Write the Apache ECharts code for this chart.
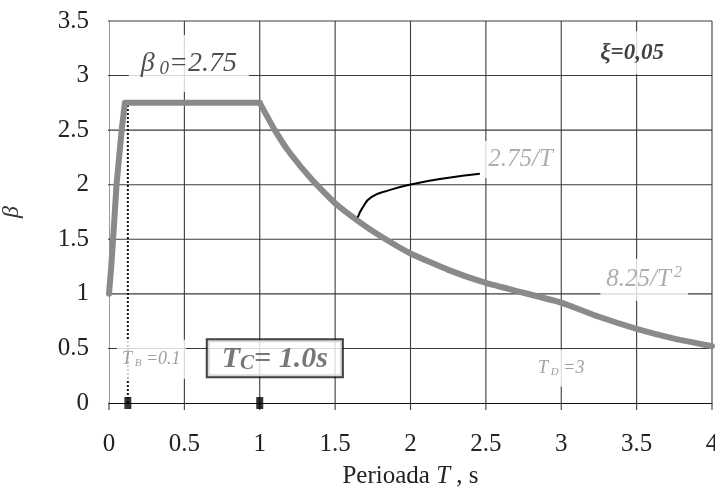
<!DOCTYPE html>
<html><head><meta charset="utf-8">
<script src="https://cdn.jsdelivr.net/npm/echarts@6/dist/echarts.min.js"></script>
<style>html,body{margin:0;padding:0;background:#fff}#c{width:715px;height:490px}</style>
</head><body><div id="c"></div>
<script>
// Spectrum curve: rising branch + plateau
const riseT = [0, 0.015, 0.027, 0.05, 0.084, 0.105, 1.0];
const riseB = [1.0, 1.25, 1.5, 2.0, 2.5, 2.75, 2.75];
// Descending branch
const fallT = [1.0, 1.1, 1.2, 1.35, 1.5, 1.66, 1.8, 2.0, 2.25, 2.5, 2.75, 3.0, 3.25, 3.5, 3.75, 4.0];
const fallB = [2.75, 2.5, 2.29, 2.04, 1.83, 1.66, 1.53, 1.37, 1.22, 1.1, 1.01, 0.92, 0.79, 0.68, 0.59, 0.52];
// T_B dotted marker line
const tbLineT = [0.125, 0.125];
const tbLineB = [0, 2.75];
// Marker squares on the T axis
const markerT = [0.125, 1.0];
// Leader line to the "2.75/T" label
const leaderT = [2.46, 2.23, 2.01, 1.86, 1.74, 1.68, 1.65];
const leaderB = [2.10, 2.06, 2.005, 1.95, 1.886, 1.786, 1.70];
// Tick values and labels
const xTickVals = [0, 0.5, 1, 1.5, 2, 2.5, 3, 3.5, 4];
const yTickVals = [0, 0.5, 1, 1.5, 2, 2.5, 3, 3.5];
const xTicks = ['0','0.5','1','1.5','2','2.5','3','3.5','4'];
const yTicks = ['0','0.5','1','1.5','2','2.5','3','3.5'];

const serif = 'Liberation Serif';
const pair = (a, b) => a.map((v, i) => [v, b[i]]);
const X_MIN = 0, X_MAX = 4, Y_MIN = 0, Y_MAX = 3.5;
const xTickOut = 0.065, yTickOut = 0.06; // tick stubs outside the plot, in axis units

// Grid lines as one broken line series built from the tick values
const gridSegs = [];
xTickVals.forEach(v => {
  gridSegs.push([v, Y_MIN - xTickOut], [v, v === X_MIN ? Y_MIN : Y_MAX], ['-', '-']);
});
yTickVals.forEach(v => {
  gridSegs.push([X_MIN - yTickOut, v], [v === Y_MIN ? X_MIN : X_MAX, v], ['-', '-']);
});

function note(x, y, formatter, rich, extra) {
  return {
    value: [x, y],
    label: Object.assign({
      show: true, position: 'inside', formatter: formatter, rich: rich,
      backgroundColor: '#fff', padding: [8, 8]
    }, extra || {})
  };
}

const chart = echarts.init(document.getElementById('c'));
chart.setOption({
  animation: false,
  backgroundColor: '#fff',
  grid: {left: 109, right: 3, top: 21, bottom: 87, containLabel: false, outerBoundsMode: 'none'},
  xAxis: {
    type: 'value', min: X_MIN, max: X_MAX, interval: 0.5,
    name: '{a|Perioada }{b|T}{a| , s}', nameLocation: 'middle', nameGap: 61,
    nameTextStyle: {rich: {a: {fontFamily: serif, fontSize: 25, color: '#222'}, b: {fontFamily: serif, fontSize: 25, fontStyle: 'italic', color: '#222'}}},
    axisLine: {show: true, lineStyle: {color: '#111', width: 1.2}},
    axisTick: {show: false},
    axisLabel: {fontFamily: serif, fontSize: 25, color: '#222', margin: 29,
      formatter: v => xTicks[Math.round(v / 0.5)]},
    splitLine: {show: false}
  },
  yAxis: {
    type: 'value', min: Y_MIN, max: Y_MAX, interval: 0.5,
    name: 'β', nameLocation: 'middle', nameGap: 85, nameRotate: 90,
    nameTextStyle: {fontFamily: serif, fontSize: 24, fontStyle: 'italic', color: '#333'},
    axisLine: {show: true, lineStyle: {color: '#999', width: 1}},
    axisTick: {show: false},
    axisLabel: {fontFamily: serif, fontSize: 25, color: '#222', margin: 20,
      formatter: v => yTicks[Math.round(v / 0.5)]},
    splitLine: {show: false}
  },
  series: [
    {type: 'line', data: gridSegs, symbol: 'none', z: 1, silent: true, clip: false,
     connectNulls: false, lineStyle: {color: '#3c3c3c', width: 1.1}},
    {type: 'line', data: pair(tbLineT, tbLineB), symbol: 'none', z: 2,
     lineStyle: {color: '#111', width: 2, type: [2, 2]}},
    {type: 'line', data: pair(riseT, riseB), symbol: 'none', z: 3,
     lineStyle: {color: '#8a8a8a', width: 6, join: 'round', cap: 'round'}},
    {type: 'line', data: pair(fallT, fallB), symbol: 'none', smooth: 0.15, z: 3,
     lineStyle: {color: '#8a8a8a', width: 6, join: 'round', cap: 'round'}},
    {type: 'line', data: pair(leaderT, leaderB), symbol: 'none', smooth: true, z: 4,
     lineStyle: {color: '#000', width: 2}},
    {type: 'scatter', data: markerT.map(t => [t, 0]), symbol: 'rect', symbolSize: [7, 12], z: 5,
     itemStyle: {color: '#000'}},
    {type: 'scatter', symbolSize: 0, z: 6, silent: true,
     data: [
       note(0.53, 3.11, '{b|β}{s| 0}{t|=2.75}', {
         b: {fontFamily: serif, fontSize: 28, fontStyle: 'italic', color: '#222'},
         s: {fontFamily: serif, fontSize: 19, fontStyle: 'italic', color: '#222', padding: [10, 0, 0, 0]},
         t: {fontFamily: serif, fontSize: 28, fontStyle: 'italic', color: '#222'}
       }, {padding: [14, 12]}),
       note(3.47, 3.21, '{a|ξ=0,05}', {
         a: {fontFamily: serif, fontSize: 23, fontStyle: 'italic', fontWeight: 'bold', color: '#111'}
       }, {padding: [10, 28]}),
       note(2.73, 2.23, '{a|2.75/T}', {
         a: {fontFamily: serif, fontSize: 25, fontStyle: 'italic', color: '#999'}
       }, {padding: [6, 6]}),
       note(3.55, 1.13, '{a|8.25/T}{s|2}', {
         a: {fontFamily: serif, fontSize: 25, fontStyle: 'italic', color: '#999'},
         s: {fontFamily: serif, fontSize: 16, fontStyle: 'italic', color: '#999', padding: [0, 0, 14, 3]}
       }, {padding: [6, 6]}),
       note(3.0, 0.32, '{a|T}{s| D}{a| =3}', {
         a: {fontFamily: serif, fontSize: 18, fontStyle: 'italic', color: '#888'},
         s: {fontFamily: serif, fontSize: 11, fontStyle: 'italic', color: '#888', padding: [8, 0, 0, 0]}
       }, {padding: [9, 4]}),
       note(0.28, 0.40, '{a|T}{s| B}{a| =0.1}', {
         a: {fontFamily: serif, fontSize: 18, fontStyle: 'italic', color: '#888'},
         s: {fontFamily: serif, fontSize: 11, fontStyle: 'italic', color: '#888', padding: [8, 0, 0, 0]}
       }, {padding: [10, 5]}),
       note(1.10, 0.41, '{a|T}{s|C}{a|= 1.0s}', {
         a: {fontFamily: serif, fontSize: 30, fontStyle: 'italic', fontWeight: 'bold', color: '#555'},
         s: {fontFamily: serif, fontSize: 21, fontStyle: 'italic', fontWeight: 'bold', color: '#555', padding: [10, 0, 0, 0]}
       }, {padding: [3, 14, 2, 14], borderColor: '#111', borderWidth: 2})
     ]}
  ]
});
</script>
</body></html>
